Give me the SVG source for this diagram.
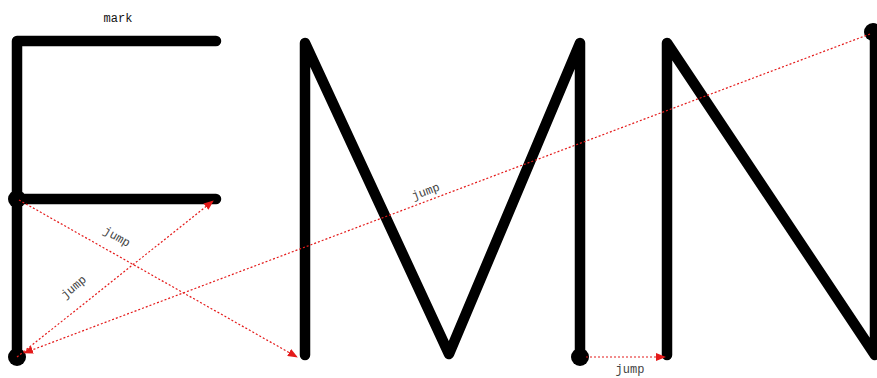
<svg xmlns="http://www.w3.org/2000/svg" width="877" height="378" viewBox="0 0 877 378">
<style>
.stroke{fill:none;stroke:#000;stroke-width:10.5;stroke-linecap:round;stroke-linejoin:round}
.dot{fill:#000}
.jump{fill:none;stroke:#e41a1a;stroke-width:1.2;stroke-dasharray:2 2}
.lbl{font-family:"Liberation Mono",monospace;font-size:12px;fill:#444}
.mark{font-family:"Liberation Mono",monospace;font-size:12px;fill:#111}
</style>
<defs>
<marker id="ah" markerWidth="10" markerHeight="8" refX="9" refY="4" orient="auto" markerUnits="userSpaceOnUse">
<path d="M0,0 L10,4 L0,8 Z" fill="#e41a1a"/>
</marker>
</defs>
<rect width="877" height="378" fill="#fff"/>
<g id="F">
<polyline class="stroke" points="216,41 17,41 17,357"/>
<line class="stroke" x1="17" y1="199" x2="216" y2="199"/>
<circle class="dot" cx="17" cy="199" r="9"/>
<circle class="dot" cx="17" cy="357" r="9"/>
<text class="mark" x="118" y="22" text-anchor="middle">mark</text>
</g>
<g id="M">
<polyline class="stroke" points="305,355 305,43 449,354 580,43 580,357"/>
<circle class="dot" cx="580" cy="357" r="9"/>
</g>
<g id="N">
<polyline class="stroke" points="667,355 667,43 875,355 875,33"/>
<circle class="dot" cx="873" cy="32" r="9"/>
</g>
<g id="connectors">
<line class="jump" x1="17" y1="357" x2="213" y2="201" marker-end="url(#ah)"/>
<line class="jump" x1="19" y1="200" x2="297" y2="357" marker-end="url(#ah)"/>
<line class="jump" x1="870" y1="34" x2="24" y2="353" marker-end="url(#ah)"/>
<line class="jump" x1="586" y1="357" x2="665" y2="357" marker-end="url(#ah)"/>
<text class="lbl" transform="translate(76,290) rotate(-40)" text-anchor="middle">jump</text>
<text class="lbl" transform="translate(115,240) rotate(30)" text-anchor="middle">jump</text>
<text class="lbl" transform="translate(427,195) rotate(-20.5)" text-anchor="middle">jump</text>
<text class="lbl" x="630" y="373" text-anchor="middle">jump</text>
</g>
</svg>
